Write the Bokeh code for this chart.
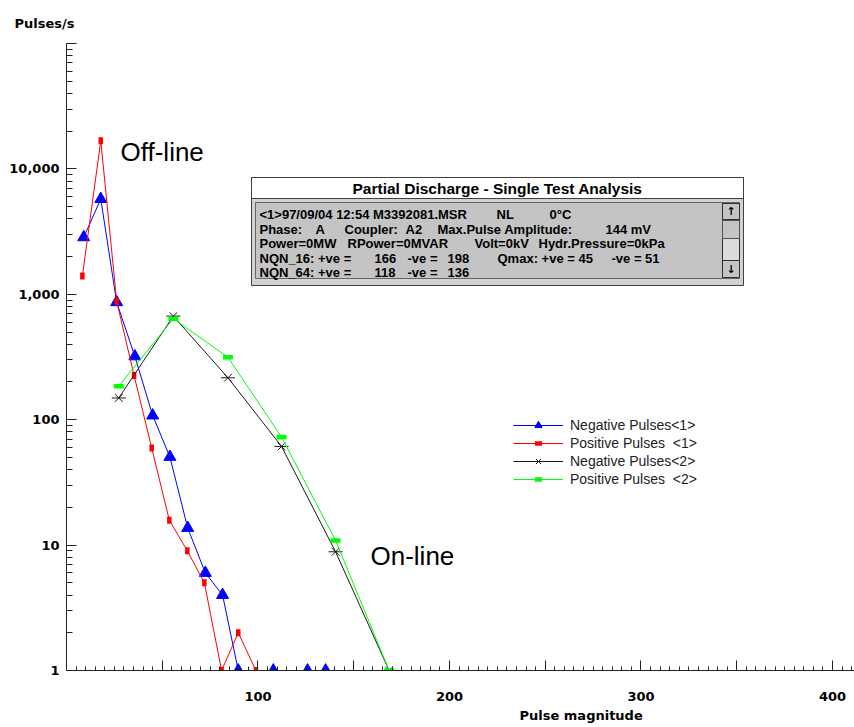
import math
from bokeh.plotting import figure
from bokeh.models import Range1d, FixedTicker, Label, BoxAnnotation, Title
from bokeh.embed import file_html
from bokeh.resources import INLINE

nan = float("nan")

# ---------------- data ----------------
neg1_x = [9.0, 17.9, 26.2, 35.7, 45.0, 54.0, 63.3, 72.5, 81.5, 89.7, 98.9, 108.0, 117.0, 125.9, 135.3]
neg1_y = [2850, 5750, 865, 320, 108, 50.5, 13.7, 6.0, 4.0, 1, nan, 1, nan, 1, 1]
pos1_x = [8.3, 17.9, 26.2, 35.3, 44.5, 53.7, 63.1, 72.0, 81.0, 89.7, 98.9]
pos1_y = [1400, 16800, 880, 225, 59.5, 15.8, 9.0, 5.0, 1, 2.0, 1]
neg2_x = [27.3, 55.8, 84.3, 112.3, 140.5, 168.5]
neg2_y = [149, 670, 216, 61.2, 8.85, 1]
pos2_x = [27.3, 55.8, 84.3, 112.3, 140.5, 168.5]
pos2_y = [185, 639, 315, 72.7, 10.9, 1]

series_names = ["Negative Pulses<1>", "Positive Pulses  <1>",
                "Negative Pulses<2>", "Positive Pulses  <2>"]

x_major = [0, 50, 100, 150, 200, 250, 300, 350, 400]
x_labels = {0: "", 50: "", 100: "100", 150: "", 200: "200", 250: "", 300: "300", 350: "", 400: "400"}
y_major = [1, 10, 100, 1000, 10000, 100000]
y_labels = {1: "1", 10: "10", 100: "100", 1000: "1,000", 10000: "10,000", 100000: ""}

x_title = "Pulse magnitude"
y_title = "Pulses/s"
note_off = "Off-line"
note_on = "On-line"

info_title = "Partial Discharge - Single Test Analysis"
info_lines = [
    ["<1>97/09/04 12:54 M3392081.MSR", "NL", "0°C"],
    ["Phase:", "A", "Coupler:", "A2", "Max.Pulse Amplitude:", "144 mV"],
    ["Power=0MW", "RPower=0MVAR", "Volt=0kV", "Hydr.Pressure=0kPa"],
    ["NQN_16: +ve =", "166", "-ve =", "198", "Qmax: +ve = 45", "-ve = 51"],
    ["NQN_64: +ve =", "118", "-ve =", "136"],
]
# page x positions of the text segments in the info box (layout)
info_pos = [
    [259, 496, 549],
    [259, 315, 344, 405, 437, 605],
    [259, 347, 474, 538],
    [259, 374, 407, 447, 497, 611],
    [259, 374, 407, 447],
]
info_rows = [213.5, 228.5, 243, 257.5, 272]

# ---------------- layout helpers ----------------
FL, FB = 66, 670  # frame left / bottom on the page


def sx(px):
    return px - FL


def sy(py):
    return FB - py


p = figure(width=854, height=727, x_range=Range1d(0, 411.5), y_range=Range1d(1, 100000),
           y_axis_type="log", output_backend="svg", toolbar_location=None,
           min_border_left=66, min_border_right=0, min_border_top=43, min_border_bottom=57)
p.outline_line_color = None
p.xgrid.visible = False
p.ygrid.visible = False
p.background_fill_color = "white"
p.border_fill_color = "white"

p.title.text = y_title
p.title.align = "left"
p.title.offset = 14 - FL
p.title.standoff = 25
p.title.text_font = "DejaVu Sans"
p.title.text_font_style = "bold"
p.title.text_font_size = "13px"
p.title.text_color = "black"

p.add_layout(Title(text=x_title, align="left", offset=519 - FL, standoff=4,
                   text_font="DejaVu Sans", text_font_style="bold", text_font_size="13px",
                   text_color="black"), "below")

AX = "#222222"
xa = p.xaxis[0]
xa.ticker = FixedTicker(ticks=x_major, minor_ticks=list(range(0, 415, 5)))
xa.major_label_overrides = x_labels
ya = p.yaxis[0]
ya.ticker = FixedTicker(ticks=y_major,
                        minor_ticks=[m * 10 ** e for e in range(0, 5) for m in range(2, 10)])
ya.major_label_overrides = y_labels
for ax in (xa, ya):
    ax.axis_line_color = AX
    ax.major_tick_line_color = AX
    ax.minor_tick_line_color = AX
    ax.major_tick_out = 0
    ax.major_tick_in = 10
    ax.minor_tick_out = 0
    ax.major_label_text_font = "DejaVu Sans"
    ax.major_label_text_font_style = "bold"
    ax.major_label_text_font_size = "13px"
    ax.major_label_text_color = "black"
xa.minor_tick_in = 4
ya.minor_tick_in = 6
xa.major_label_standoff = 21
ya.major_label_standoff = 7

# ---------------- series ----------------
BLUE, RED, BLACK, GREEN = "#0000ff", "#ff0000", "#1a1a1a", "#00ff00"

p.line(neg1_x, neg1_y, line_color=BLUE, line_width=1, legend_label=series_names[0])
p.scatter(neg1_x, neg1_y, marker="triangle", size=12, fill_color=BLUE, line_color=BLUE,
          legend_label=series_names[0])

p.line(pos1_x, pos1_y, line_color=RED, line_width=1, legend_label=series_names[1])
p.scatter(pos1_x, pos1_y, marker="dash", angle=math.pi / 2, size=7, line_width=4.5,
          line_color=RED, legend_label=series_names[1])

p.line(neg2_x, neg2_y, line_color=BLACK, line_width=1, legend_label=series_names[2])
p.scatter(neg2_x, neg2_y, marker="x", size=11, line_color=BLACK, line_width=1,
          legend_label=series_names[2])
p.scatter(neg2_x, neg2_y, marker="dash", size=14, line_color=BLACK, line_width=1)

p.line(pos2_x, pos2_y, line_color=GREEN, line_width=1, legend_label=series_names[3])
p.scatter(pos2_x, pos2_y, marker="dash", size=10, line_width=4.5, line_color=GREEN,
          legend_label=series_names[3])

lg = p.legend[0]
lg.location = (447, 182)
lg.padding = 0
lg.margin = 0
lg.spacing = 0
lg.glyph_width = 50
lg.glyph_height = 18
lg.label_height = 18
lg.label_standoff = 7
lg.border_line_color = None
lg.background_fill_alpha = 0
lg.label_text_font = "Liberation Sans"
lg.label_text_font_size = "14px"
lg.label_text_color = "#222222"

# ---------------- texts ----------------
p.add_layout(Label(x=sx(120), y=sy(151.5), x_units="screen", y_units="screen", text=note_off,
                   text_font="Liberation Sans", text_font_size="26px", text_color="black",
                   text_baseline="alphabetic"))
p.add_layout(Label(x=sx(370), y=sy(555), x_units="screen", y_units="screen", text=note_on,
                   text_font="Liberation Sans", text_font_size="26px", text_color="black",
                   text_baseline="alphabetic"))


# ---------------- info window ----------------
def box(l, r, t, b, fill, line="#404040"):
    p.add_layout(BoxAnnotation(left=sx(l), right=sx(r), top=sy(t), bottom=sy(b),
                               left_units="screen", right_units="screen",
                               top_units="screen", bottom_units="screen",
                               fill_color=fill, fill_alpha=1.0,
                               line_color=line, line_alpha=1.0,
                               line_width=1, line_dash="solid"))


box(251, 743, 177, 285, "#d2d2d2")
box(251, 743, 177, 198, "white")
box(255, 739, 202, 278, "#c4c4c4", "#666666")
box(722, 739, 203, 277, "#dcdcdc", "#303030")
box(722, 739, 203, 219, "#c4c4c4", "#303030")
box(722, 739, 220, 238, "#c4c4c4", "#505050")
box(722, 739, 260, 277, "#c4c4c4", "#303030")
p.add_layout(Label(x=sx(730.5), y=sy(211), x_units="screen", y_units="screen", text="↑",
                   text_font="DejaVu Sans", text_font_style="bold", text_font_size="11px",
                   text_align="center", text_baseline="middle", text_color="black"))
p.add_layout(Label(x=sx(730.5), y=sy(268.5), x_units="screen", y_units="screen", text="↓",
                   text_font="DejaVu Sans", text_font_style="bold", text_font_size="11px",
                   text_align="center", text_baseline="middle", text_color="black"))

p.add_layout(Label(x=sx(497), y=sy(187.5), x_units="screen", y_units="screen", text=info_title,
                   text_font="Liberation Sans", text_font_style="bold", text_font_size="15.5px",
                   text_align="center", text_baseline="middle", text_color="black"))
for segs, xs, row in zip(info_lines, info_pos, info_rows):
    for s, px in zip(segs, xs):
        p.add_layout(Label(x=sx(px), y=sy(row), x_units="screen", y_units="screen", text=s,
                           text_font="Liberation Sans", text_font_style="bold",
                           text_font_size="13px", text_baseline="middle",
                           text_color="black"))

open("out.html", "w").write(file_html(p, INLINE))
